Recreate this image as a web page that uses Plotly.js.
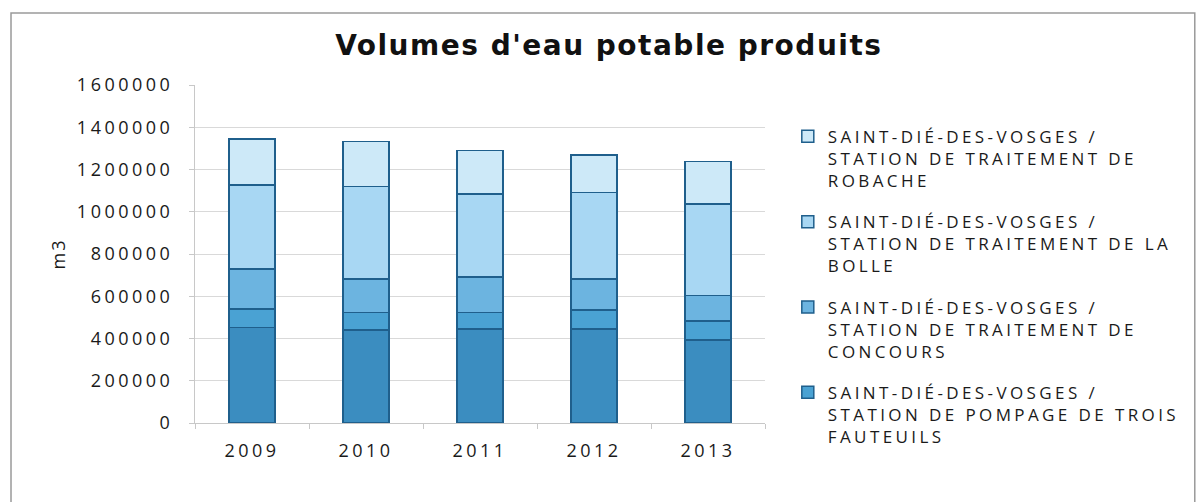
<!DOCTYPE html>
<html>
<head>
<meta charset="utf-8">
<script src="https://cdn.plot.ly/plotly-3.0.1.min.js"></script>
<style>
  html, body { margin: 0; padding: 0; background: #ffffff; }
  #chart { width: 1198px; height: 502px; }
  text.legendtext { letter-spacing: 3.4px; }
  .xtick text, .ytick text { letter-spacing: 3.5px; }
  text.ytitle { letter-spacing: 2px; }
  text.gtitle { letter-spacing: 1.5px; }
</style>
</head>
<body>
<div id="chart"></div>
<script>
// Data (m3)
const years = ['2009', '2010', '2011', '2012', '2013'];

const seriesNames = [
  'SAINT-DIÉ-DES-VOSGES / STATION (5e série, hors légende)',
  'SAINT-DIÉ-DES-VOSGES /<br>STATION DE POMPAGE DE TROIS<br>FAUTEUILS',
  'SAINT-DIÉ-DES-VOSGES /<br>STATION DE TRAITEMENT DE<br>CONCOURS',
  'SAINT-DIÉ-DES-VOSGES /<br>STATION DE TRAITEMENT DE LA<br>BOLLE',
  'SAINT-DIÉ-DES-VOSGES /<br>STATION DE TRAITEMENT DE<br>ROBACHE'
];

const valuesBottom = [453000, 440000, 444000, 444000, 393000];
const valuesTroisFauteuils = [87000, 82000, 78000, 91000, 91000];
const valuesConcours = [188000, 160000, 168000, 147000, 119000];
const valuesLaBolle = [399000, 437000, 394000, 410000, 434000];
const valuesRobache = [217000, 213000, 205000, 177000, 200000];

const yTickValues = [0, 200000, 400000, 600000, 800000, 1000000, 1200000, 1400000, 1600000];
const yTickLabels = ['0', '200000', '400000', '600000', '800000', '1000000', '1200000', '1400000', '1600000'];

const allValues = [valuesBottom, valuesTroisFauteuils, valuesConcours, valuesLaBolle, valuesRobache];
const colors = ['#3b8dc0', '#4aa2d3', '#6cb4e0', '#a8d7f3', '#cde9f8'];
const showInLegend = [false, true, true, true, true];
const legendRanks = [5, 4, 3, 2, 1];

const traces = allValues.map((vals, i) => ({
  type: 'bar',
  x: years,
  y: vals,
  name: seriesNames[i],
  legendgroup: 'g' + i,
  legendrank: legendRanks[i],
  showlegend: showInLegend[i],
  marker: { color: colors[i], line: { color: '#1f5f8c', width: 1.5 } },
  width: 0.4
}));

const layout = {
  width: 1198,
  height: 502,
  paper_bgcolor: '#ffffff',
  plot_bgcolor: '#ffffff',
  barmode: 'stack',
  margin: { l: 195, r: 433, t: 85, b: 79, pad: 0 },
  font: { family: 'Open Sans, sans-serif', size: 17, color: '#1a1a1a' },
  title: {
    text: "Volumes d'eau potable produits",
    font: { family: 'DejaVu Sans, sans-serif', size: 28, weight: 'bold', color: '#111111' },
    x: 0.726, xanchor: 'center', xref: 'paper',
    y: 0.91, yanchor: 'middle'
  },
  xaxis: {
    type: 'category',
    showgrid: false,
    showline: true,
    linecolor: '#c8c8c8',
    linewidth: 1,
    ticks: 'outside',
    tickson: 'boundaries',
    ticklen: 5,
    tickcolor: '#c8c8c8',
    ticklabelstandoff: 11,
    tickfont: { family: 'Open Sans, sans-serif', size: 18, color: '#1a1a1a' },
    automargin: false
  },
  yaxis: {
    range: [0, 1600000],
    tickmode: 'array',
    tickvals: yTickValues,
    ticktext: yTickLabels,
    showgrid: true,
    gridcolor: '#d9d9d9',
    gridwidth: 1,
    showline: true,
    linecolor: '#c8c8c8',
    linewidth: 1,
    ticks: 'outside',
    ticklen: 5,
    tickcolor: '#c8c8c8',
    ticklabelstandoff: 12,
    zeroline: false,
    tickfont: { family: 'Open Sans, sans-serif', size: 18, color: '#1a1a1a' },
    title: { text: 'm3', font: { family: 'Open Sans, sans-serif', size: 18, color: '#1a1a1a' }, standoff: 6 },
    automargin: false
  },
  legend: {
    x: 1.04, xanchor: 'left',
    y: 0.9, yanchor: 'top',
    traceorder: 'grouped',
    tracegroupgap: 16,
    valign: 'top',
    font: { family: 'Open Sans, sans-serif', size: 17, color: '#1a1a1a' },
    bgcolor: 'rgba(0,0,0,0)'
  },
  shapes: [{
    type: 'rect', xref: 'paper', yref: 'paper',
    x0: -0.3228, x1: 1.754, y0: -0.4, y1: 1.213,
    line: { color: '#9a9a9a', width: 1.5 },
    fillcolor: 'rgba(0,0,0,0)',
    layer: 'below'
  }],
  bargap: 0.6,
  showlegend: true
};

Plotly.newPlot('chart', traces, layout, { displayModeBar: false, staticPlot: true });
</script>
</body>
</html>
